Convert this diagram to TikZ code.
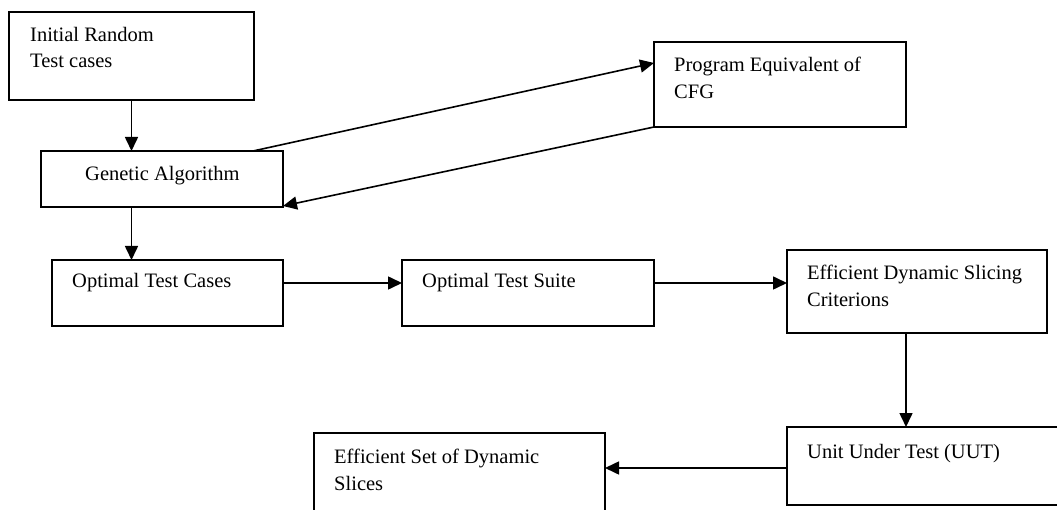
\documentclass[tikz,border=0pt]{standalone}
\usepackage{fontspec}
\setmainfont{Liberation Serif}
\usetikzlibrary{arrows.meta,calc}
\begin{document}
\begin{tikzpicture}[x=1pt,y=-1pt,
  box/.style={draw, line width=1.6pt, anchor=north west, inner sep=0pt, outer sep=0pt},
  txt/.style={anchor=base west, inner sep=0pt, font=\fontsize{20.5}{27}\selectfont},
  flow/.style={line width=1.6pt, -{Triangle[length=14pt,width=13pt]}}]
\clip (0,0) rectangle (1057,510);

% boxes
\node[box, minimum width=245pt, minimum height=88pt] (init) at (9,12) {};
\node[box, minimum width=242pt, minimum height=56pt] (ga)   at (41,151) {};
\node[box, minimum width=252pt, minimum height=85pt] (pec)  at (654,42) {};
\node[box, minimum width=231pt, minimum height=66pt] (otc)  at (52,260) {};
\node[box, minimum width=252pt, minimum height=66pt] (ots)  at (402,260) {};
\node[box, minimum width=260pt, minimum height=83pt] (edsc) at (787,250) {};
\node[box, minimum width=285pt, minimum height=78pt] (uut)  at (787,427) {};
\node[box, minimum width=291pt, minimum height=95pt] (esds) at (314,433) {};

% labels
\node[txt] (init1) at (30,42) {Initial Random};
\node[txt] (init2) at (30,68) {Test cases};
\node[txt] (gat)   at (85,181) {Genetic Algorithm};
\node[txt] (pec1)  at (674,72) {Program Equivalent of};
\node[txt] (pec2)  at (674,99) {CFG};
\node[txt] (otct)  at (72,288) {Optimal Test Cases};
\node[txt] (otst)  at (422,288) {Optimal Test Suite};
\node[txt] (edsc1) at (807,280) {Efficient Dynamic Slicing};
\node[txt] (edsc2) at (807,307) {Criterions};
\node[txt] (uutt)  at (807,458) {Unit Under Test (UUT)};
\node[txt] (esds1) at (334,463) {Efficient Set of Dynamic};
\node[txt] (esds2) at (334,490) {Slices};

% connectors
\draw[flow] (init.south) -- (init.south |- ga.north);
\draw[flow] ($(ga.north east)+(-30,0)$) -- ($(pec.north west)+(0,21)$);
\draw[flow] (pec.south west) -- ($(ga.south east)+(0,-1)$);
\draw[flow] (ga.south -| init.south) -- (otc.north -| init.south);
\draw[flow] ($(otc.north east)+(0,23)$) coordinate (a1) -- (a1 -| ots.west);
\draw[flow] ($(ots.north east)+(0,23)$) coordinate (a2) -- (a2 -| edsc.west);
\draw[flow] ($(edsc.south)+(-11,0)$) coordinate (a3) -- (a3 |- uut.north);
\draw[flow] ($(uut.north west)+(0,41)$) coordinate (a4) -- (a4 -| esds.east);
\end{tikzpicture}
\end{document}
